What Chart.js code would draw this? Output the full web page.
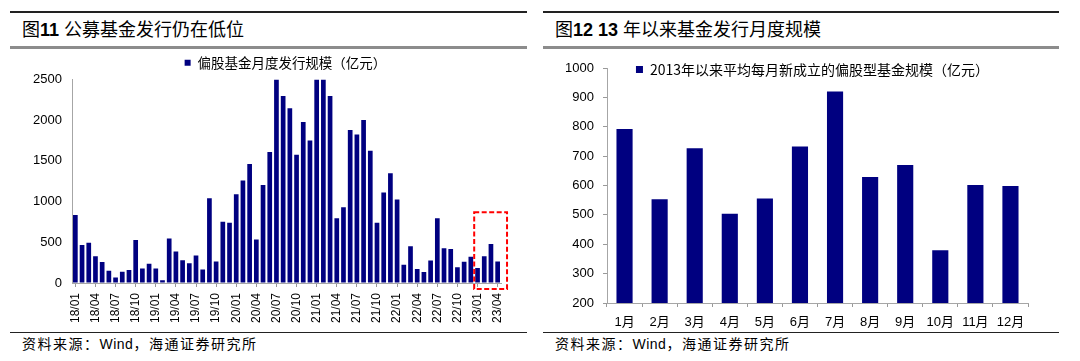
<!DOCTYPE html>
<html>
<head>
<meta charset="utf-8">
<script src="https://cdn.jsdelivr.net/npm/chart.js@4.4.0/dist/chart.umd.min.js"></script>
<style>
    body { margin: 0; width: 1080px; height: 361px; background: #fff; position: relative; overflow: hidden;
           font-family: 'Liberation Sans', 'Noto Sans CJK SC', sans-serif; color: #000; }
    .rule { position: absolute; }
    .title { position: absolute; top: 20px; font-size: 18px; line-height: 20px; white-space: nowrap; }
    .title b { font-weight: bold; }
    .src { position: absolute; top: 336px; font-size: 14px; line-height: 16px; letter-spacing: 1.5px; white-space: nowrap; }
    .src span { letter-spacing: 0.5px; }
    canvas { position: absolute; }
</style>
</head>
<body>

<!-- left panel frame -->
<div class="rule" style="left:10px;top:11px;width:517px;height:2px;background:#222"></div>
<div class="title" style="left:22px">图<b>11</b> 公募基金发行仍在低位</div>
<div class="rule" style="left:10px;top:46px;width:517px;height:3px;background:#8c8c8c"></div>
<div class="rule" style="left:10px;top:332px;width:517px;height:1px;background:#222"></div>
<div class="src" style="left:22px">资料来源：<span>Wind</span>，海通证券研究所</div>

<!-- right panel frame -->
<div class="rule" style="left:543px;top:11px;width:516px;height:2px;background:#222"></div>
<div class="title" style="left:555px">图<b>12</b> <b>13</b> 年以来基金发行月度规模</div>
<div class="rule" style="left:543px;top:46px;width:516px;height:3px;background:#8c8c8c"></div>
<div class="rule" style="left:543px;top:332px;width:516px;height:1px;background:#222"></div>
<div class="src" style="left:555px">资料来源：<span>Wind</span>，海通证券研究所</div>

<canvas id="issueChart" width="548" height="283" style="left:10px;top:50px"></canvas>
<canvas id="avgChart" width="516" height="283" style="left:543px;top:50px"></canvas>

<script>
/* ---------------- Data ---------------- */

const monthLabels = [
    "18/01", "18/02", "18/03", "18/04", "18/05", "18/06", "18/07", "18/08", "18/09", "18/10", "18/11", "18/12",
    "19/01", "19/02", "19/03", "19/04", "19/05", "19/06", "19/07", "19/08", "19/09", "19/10", "19/11", "19/12",
    "20/01", "20/02", "20/03", "20/04", "20/05", "20/06", "20/07", "20/08", "20/09", "20/10", "20/11", "20/12",
    "21/01", "21/02", "21/03", "21/04", "21/05", "21/06", "21/07", "21/08", "21/09", "21/10", "21/11", "21/12",
    "22/01", "22/02", "22/03", "22/04", "22/05", "22/06", "22/07", "22/08", "22/09", "22/10", "22/11", "22/12",
    "23/01", "23/02", "23/03", "23/04"
];

// 偏股基金月度发行规模（亿元）; the axis is cut at 2500
const issueValues = [
    835, 468, 493, 330, 257, 151, 69, 138, 159, 529, 179, 236,
    179, 33, 546, 387, 281, 244, 338, 167, 1042, 265, 753, 741,
    1091, 1258, 1462, 533, 1205, 1608, 2500, 2296, 2146, 1576, 1979, 1751,
    2500, 2500, 2296, 794, 932, 1881, 1824, 2003, 1625, 741, 1112, 1348,
    1026, 224, 452, 171, 134, 277, 794, 428, 419, 195, 261, 322,
    183, 330, 480, 265
];

const monthNames = ["1月", "2月", "3月", "4月", "5月", "6月", "7月", "8月", "9月", "10月", "11月", "12月"];

// 2013年以来平均每月新成立的偏股型基金规模（亿元）
const avgValues = [792, 553, 727, 504, 556, 733, 920, 629, 670, 380, 602, 598];

const highlight = { from: "23/01", to: "23/04", top: 870 };

/* ---------------- Common ---------------- */

const NAVY = "#000080";
const AXIS_GREY = "#a6a6a6";
const CJK = "'Noto Sans CJK SC', 'Liberation Sans', sans-serif";

Chart.defaults.font.family = "'Liberation Sans', 'Noto Sans CJK SC', sans-serif";
Chart.defaults.color = "#000";

const plainNumber = v => String(v);

/* ---------------- Legend nudge (shift sideways / let it overhang the plot) ---------------- */

const legendNudge = {
    id: "legendNudge",
    afterLayout(chart, args, opts) {
        const lg = chart.legend;
        lg.left += opts.dx;
        lg.right += opts.dx;
        lg.bottom += opts.grow;
        lg.height += opts.grow;
    }
};

/* ---------------- Red dashed box ---------------- */

const highlightBox = {
    id: "highlightBox",
    afterDatasetsDraw(chart) {
        const { ctx, scales: { x, y } } = chart;
        const i0 = monthLabels.indexOf(highlight.from);
        const i1 = monthLabels.indexOf(highlight.to);
        const step = x.getPixelForValue(1) - x.getPixelForValue(0);
        const left = x.getPixelForValue(i0) - step / 2;
        const right = x.getPixelForValue(i1) + step * 1.4;
        const top = y.getPixelForValue(highlight.top);
        const bottom = y.getPixelForValue(0) + 6;
        ctx.save();
        ctx.strokeStyle = "#ff0000";
        ctx.lineWidth = 2;
        ctx.setLineDash([5, 2.5]);
        ctx.strokeRect(left, top, right - left, bottom - top);
        ctx.restore();
    }
};

/* ---------------- Left chart ---------------- */

new Chart(document.getElementById("issueChart"), {
    type: "bar",
    data: {
        labels: monthLabels,
        datasets: [{
            label: "偏股基金月度发行规模（亿元）",
            data: issueValues,
            backgroundColor: NAVY,
            barPercentage: 0.7,
            categoryPercentage: 1
        }]
    },
    options: {
        responsive: false,
        animation: false,
        layout: { padding: { left: 0, right: 57, top: 0, bottom: 0 } },
        plugins: {
            legend: {
                labels: { boxWidth: 6, boxHeight: 6, padding: 6, color: "#000", font: { size: 13.5, family: CJK } }
            },
            legendNudge: { dx: 30, grow: 0 },
            tooltip: { enabled: false }
        },
        scales: {
            x: {
                grid: {
                    drawOnChartArea: false, offset: false, tickLength: 4,
                    color: ctx => ctx.index % 3 === 0 ? "#999" : "rgba(0,0,0,0)"
                },
                border: { color: AXIS_GREY },
                ticks: {
                    autoSkip: false, maxRotation: 90, minRotation: 90, padding: 6,
                    font: { size: 12 },
                    callback: (v, i) => i % 3 === 0 ? monthLabels[i] : ""
                },
                afterFit: s => { s.height = 50; }
            },
            y: {
                min: 0, max: 2500,
                grid: { drawOnChartArea: false, drawTicks: false },
                border: { color: AXIS_GREY },
                ticks: { stepSize: 500, padding: 10, font: { size: 13 }, callback: plainNumber },
                afterFit: s => { s.width = 62; }
            }
        }
    },
    plugins: [legendNudge, highlightBox]
});

/* ---------------- Right chart ---------------- */

new Chart(document.getElementById("avgChart"), {
    type: "bar",
    data: {
        labels: monthNames,
        datasets: [{
            label: "2013年以来平均每月新成立的偏股型基金规模（亿元）",
            data: avgValues,
            backgroundColor: NAVY,
            barPercentage: 0.46,
            categoryPercentage: 1
        }]
    },
    options: {
        responsive: false,
        animation: false,
        layout: { padding: { left: 0, right: 31, top: 10, bottom: 0 } },
        plugins: {
            legend: {
                maxHeight: 8,
                labels: { boxWidth: 7, boxHeight: 7, padding: 2.5, color: "#000", font: { size: 14, family: CJK } }
            },
            legendNudge: { dx: 27, grow: 25 },
            tooltip: { enabled: false }
        },
        scales: {
            x: {
                grid: { drawOnChartArea: false, tickLength: 4, color: "#999" },
                border: { color: AXIS_GREY },
                ticks: { padding: 8, font: { size: 13 } },
                afterFit: s => { s.height = 30; }
            },
            y: {
                min: 200, max: 1000,
                grid: { drawOnChartArea: false, tickLength: 4, color: "#999" },
                border: { color: AXIS_GREY },
                ticks: { stepSize: 100, padding: 9, font: { size: 13 }, callback: plainNumber },
                afterFit: s => { s.width = 64; }
            }
        }
    },
    plugins: [legendNudge]
});
</script>
</body>
</html>
